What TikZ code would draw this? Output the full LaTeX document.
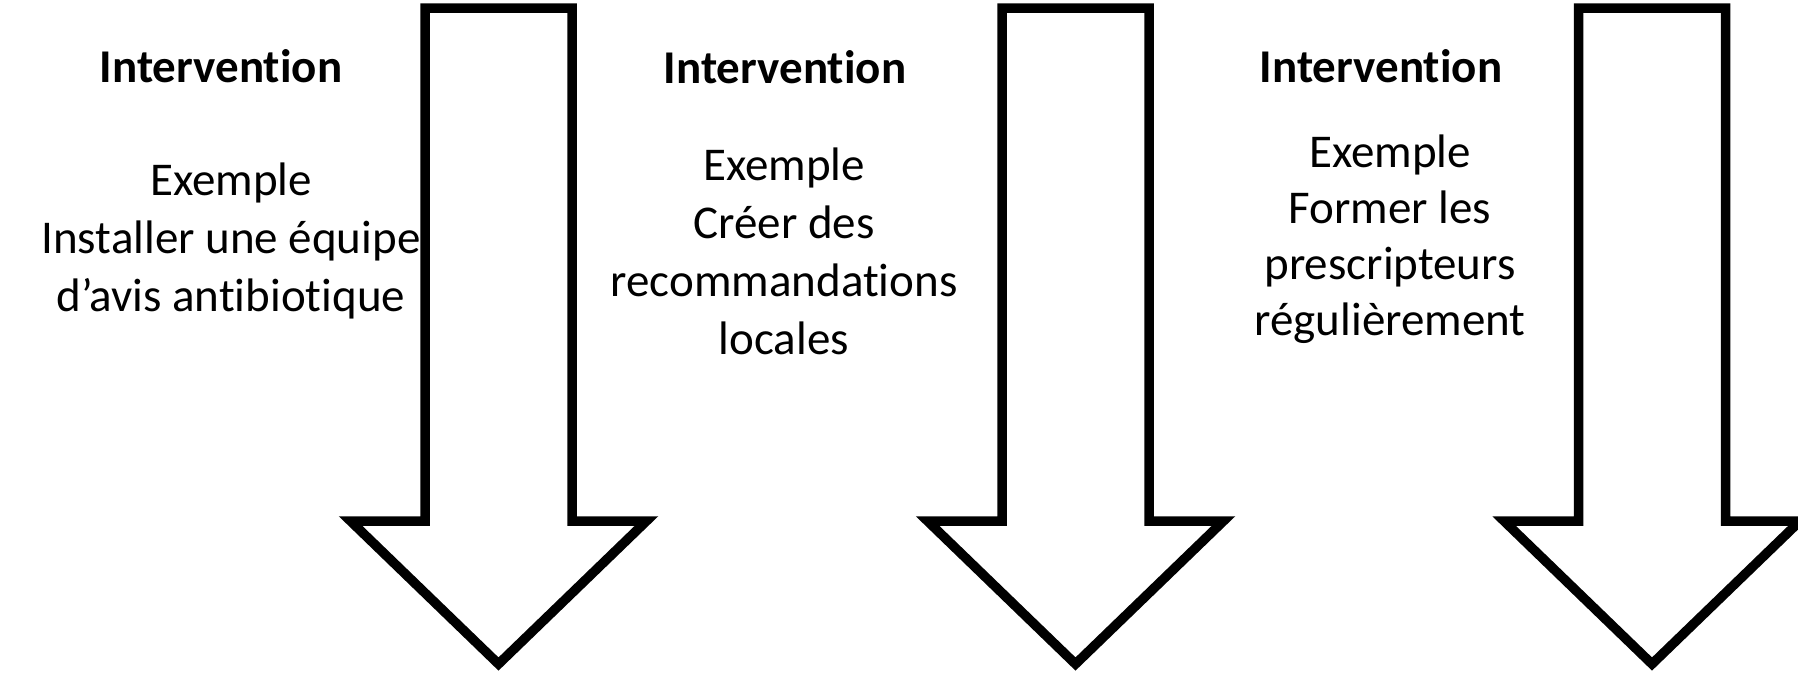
\documentclass[tikz,border=0pt]{standalone}
\usepackage{fontspec}
\setmainfont{Carlito}[Ligatures=NoCommon]
\tikzset{
  blockarrow/.style={draw=black, line width=9.5pt, fill=white, line join=miter, miter limit=10},
  titletext/.style={font=\fontsize{47}{58}\selectfont\bfseries, anchor=base, inner sep=0pt},
  bodytext/.style={font=\fontsize{47}{58}\selectfont, anchor=base, inner sep=0pt}
}
\begin{document}
\begin{tikzpicture}[x=1pt,y=-1pt]
\useasboundingbox (0,0) rectangle (1798,673);
\clip (0,0) rectangle (1798,673);
\foreach \c in {498.5,1075.5,1652} {
  \draw[blockarrow] (\c-73.5,8) -- (\c+73.5,8) -- (\c+73.5,521) -- (\c+148,521)
    -- (\c,664) -- (\c-148,521) -- (\c-73.5,521) -- cycle;
}
\node[titletext] (t1) at (221,82) {Intervention};
\node[titletext] (t2) at (785,83) {Intervention};
\node[titletext] (t3) at (1381,82) {Intervention};
\foreach \t [count=\i from 0] in {Exemple,Installer une équipe,d’avis antibiotique}
  \node[bodytext] (b1-\i) at (231,195+58*\i) {\t};
\foreach \t [count=\i from 0] in {Exemple,Créer des,recommandations,locales}
  \node[bodytext] (b2-\i) at (784,180+58*\i) {\t};
\foreach \t [count=\i from 0] in {Exemple,Former les,prescripteurs,régulièrement}
  \node[bodytext] (b3-\i) at (1390,167+56*\i) {\t};
\end{tikzpicture}
\end{document}
